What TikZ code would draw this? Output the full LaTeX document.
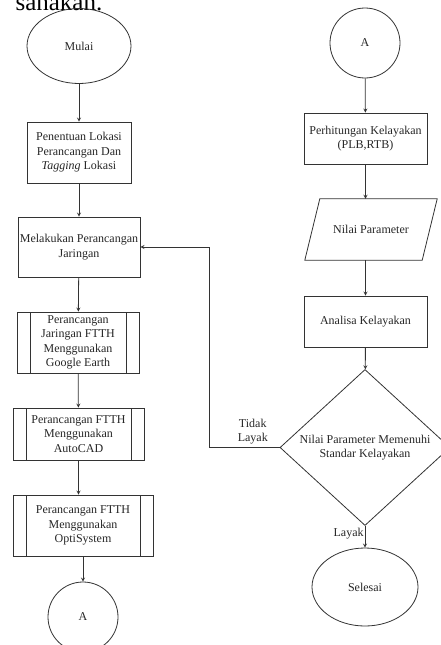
\documentclass[tikz,border=0pt]{standalone}
\usepackage{fontspec}
\setmainfont{Liberation Serif}
\usepackage{tikz}
\usetikzlibrary{shapes.geometric,arrows}

\begin{document}
\begin{tikzpicture}[x=1pt,y=-1pt,>=stealth,
  every node/.style={font=\fontsize{12}{14.5}\selectfont,text=black!85,align=center},
  line/.style={draw=black!80,line width=0.8pt},
  box/.style={line,rectangle,inner sep=1pt},
  proc/.style={box,path picture={
    \draw[line] ([xshift=13pt]path picture bounding box.north west) -- ([xshift=13pt]path picture bounding box.south west)
      ([xshift=-13pt]path picture bounding box.north east) -- ([xshift=-13pt]path picture bounding box.south east);}},
  term/.style={line,ellipse,inner sep=0pt},
  conn/.style={line,circle,inner sep=0pt,minimum size=70pt},
  io/.style={rectangle,inner sep=0pt,minimum width=117pt,minimum height=61pt},
  decision/.style={line,diamond,inner sep=0pt,minimum width=170pt,minimum height=129pt}]
\useasboundingbox (0,0) rectangle (440,645);

% sisa teks halaman
\node[anchor=base west,font=\fontsize{25}{30}\selectfont,text=black] (judul) at (12,10) {sanakan.};

% kolom kiri
\node[term,minimum width=104pt,minimum height=75pt] (mulai) at (79,46) {Mulai};
\node[box,minimum width=104pt,minimum height=61pt] (lokasi) at (79,152.5) {Penentuan Lokasi\\Perancangan Dan\\\textit{Tagging} Lokasi};
\node[box,minimum width=122pt,minimum height=60pt] (desain) at (79,247) {Melakukan Perancangan\\Jaringan};
\node[proc,minimum width=122pt,minimum height=61pt] (gearth) at (78,342.5) {Perancangan\\Jaringan FTTH\\Menggunakan\\Google Earth};
\node[proc,minimum width=131pt,minimum height=52pt] (autocad) at (78.5,434) {Perancangan FTTH\\Menggunakan\\AutoCAD};
\node[proc,minimum width=140pt,minimum height=61pt] (optisys) at (83,525.5) {Perancangan FTTH\\Menggunakan\\OptiSystem};
\node[conn] (a1) at (83,617) {A};

% kolom kanan
\node[conn] (a2) at (365,43) {A};
\node[box,minimum width=123pt,minimum height=51pt] (plb) at (365.5,138.5) {Perhitungan Kelayakan\\(PLB,RTB)};
\node[io] (nilai) at (371,229.5) {Nilai Parameter};
\draw[line] ([xshift=7.5pt]nilai.north west) -- ([xshift=7.5pt]nilai.north east)
  -- ([xshift=-7.5pt]nilai.south east) -- ([xshift=-7.5pt]nilai.south west) -- cycle;
\node[box,minimum width=123pt,minimum height=51pt] (analisa) at (365.5,321.5) {Analisa Kelayakan};
\node[decision] (cek) at (365,447.5) {Nilai Parameter Memenuhi\\Standar Kelayakan};
\node[term,minimum width=106pt,minimum height=78pt] (selesai) at (365,587) {Selesai};
\coordinate (balik) at (209,447.5);

% panah
\draw[line,->] (mulai) -- (lokasi);
\draw[line,->] (lokasi) -- (desain);
\draw[line,->] (desain) -- (gearth);
\draw[line,->] (gearth) -- (autocad);
\draw[line,->] (autocad) -- (autocad |- optisys.north);
\draw[line,->] (optisys) -- (a1);
\draw[line,->] (a2) -- (plb);
\draw[line,->] (plb) -- (plb |- nilai.north);
\draw[line,->] (plb |- nilai.south) -- (analisa);
\draw[line,->] (analisa) -- (cek);
\draw[line,->] (cek) -- node[pos=0.35,left,inner sep=1pt] (ly) {Layak} (selesai);
\draw[line,->] (cek.west) -- node[pos=0.38,above,inner sep=3pt] (tl) {Tidak\\Layak} (balik) |- (desain.east);
\end{tikzpicture}
\end{document}
